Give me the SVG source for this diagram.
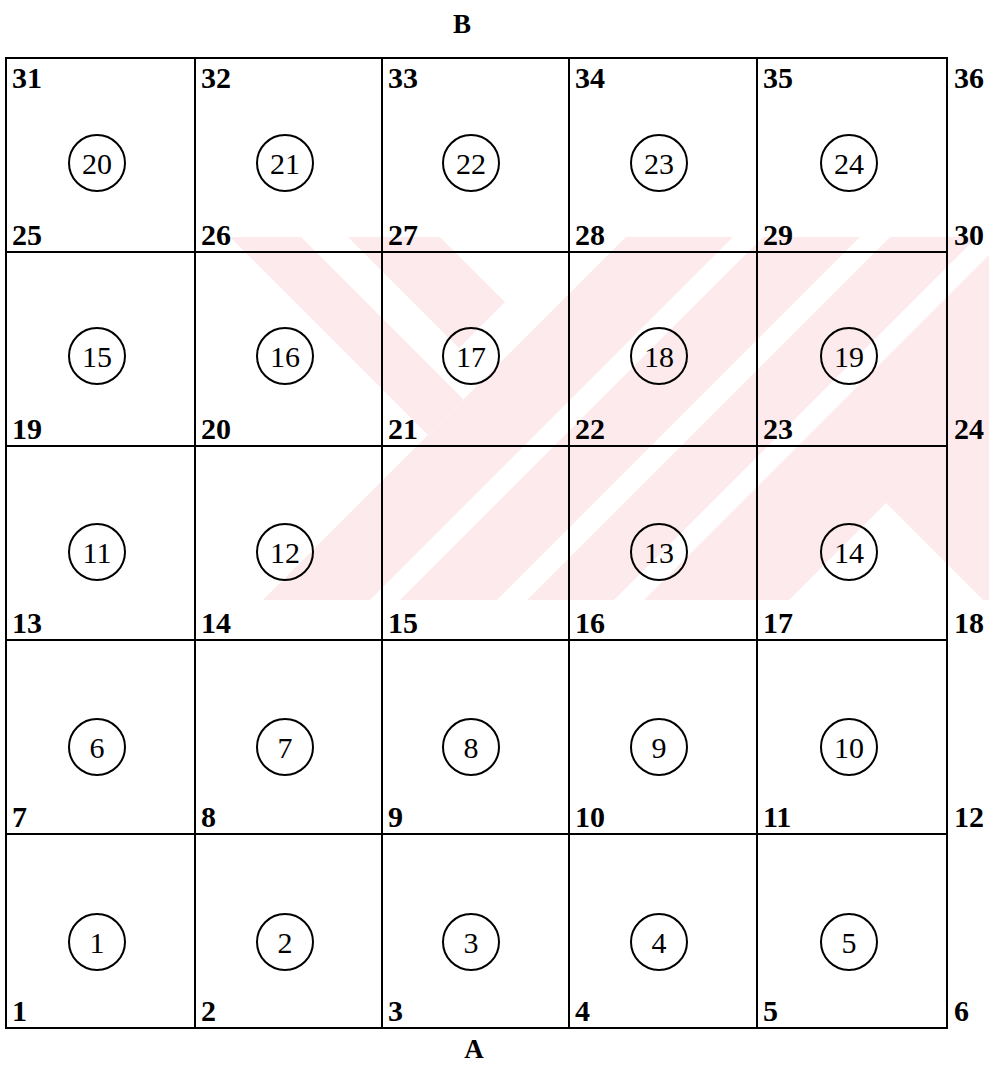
<svg xmlns="http://www.w3.org/2000/svg" width="989" height="1065" viewBox="0 0 989 1065">
<style>
.grid{stroke:#000;stroke-width:2;fill:none}
.el circle{fill:none;stroke:#000;stroke-width:2}
.el text{font-family:"Liberation Serif","Times New Roman",serif;font-size:30px;text-anchor:middle;fill:#000}
.nl{font-family:"Liberation Serif","Times New Roman",serif;font-size:30px;font-weight:bold;fill:#000}
.ttl{font-family:"Liberation Serif","Times New Roman",serif;font-size:27px;font-weight:bold;text-anchor:middle;fill:#000}
.wm{fill:#fdeaed}
.wmw{fill:#fff}
</style>
<defs>
<clipPath id="band"><rect x="0" y="237" width="989" height="363"/></clipPath>
</defs>
<rect width="989" height="1065" fill="#fff"/>
<g id="watermark" clip-path="url(#band)">
<polygon class="wm" points="230,237 301,237 463.5,399.5 428,435"/>
<polygon class="wm" points="348,237 440,237 505,302 459,348"/>
<polygon class="wm" points="626,237 989,237 989,600 263,600"/>
<polygon class="wmw" points="733,237 763,237 400,600 370,600"/>
<polygon class="wmw" points="860,237 890,237 527,600 497,600"/>
<polygon class="wmw" points="977,237 1007,237 644,600 614,600"/>
<polygon class="wmw" points="886,503 983,600 789,600"/>
</g>
<g id="connectors">
<rect class="grid" x="6" y="58" width="941" height="970"/>
<line class="grid" x1="195" y1="58" x2="195" y2="1028"/>
<line class="grid" x1="382" y1="58" x2="382" y2="1028"/>
<line class="grid" x1="569" y1="58" x2="569" y2="1028"/>
<line class="grid" x1="757" y1="58" x2="757" y2="1028"/>
<line class="grid" x1="6" y1="252" x2="947" y2="252"/>
<line class="grid" x1="6" y1="446" x2="947" y2="446"/>
<line class="grid" x1="6" y1="640" x2="947" y2="640"/>
<line class="grid" x1="6" y1="834" x2="947" y2="834"/>
</g>
<g id="node-labels">
<text class="nl" x="12" y="88">31</text>
<text class="nl" x="201" y="88">32</text>
<text class="nl" x="388" y="88">33</text>
<text class="nl" x="575" y="88">34</text>
<text class="nl" x="763" y="88">35</text>
<text class="nl" x="954" y="88">36</text>
<text class="nl" x="12" y="245">25</text>
<text class="nl" x="201" y="245">26</text>
<text class="nl" x="388" y="245">27</text>
<text class="nl" x="575" y="245">28</text>
<text class="nl" x="763" y="245">29</text>
<text class="nl" x="954" y="245">30</text>
<text class="nl" x="12" y="439">19</text>
<text class="nl" x="201" y="439">20</text>
<text class="nl" x="388" y="439">21</text>
<text class="nl" x="575" y="439">22</text>
<text class="nl" x="763" y="439">23</text>
<text class="nl" x="954" y="439">24</text>
<text class="nl" x="12" y="633">13</text>
<text class="nl" x="201" y="633">14</text>
<text class="nl" x="388" y="633">15</text>
<text class="nl" x="575" y="633">16</text>
<text class="nl" x="763" y="633">17</text>
<text class="nl" x="954" y="633">18</text>
<text class="nl" x="12" y="827">7</text>
<text class="nl" x="201" y="827">8</text>
<text class="nl" x="388" y="827">9</text>
<text class="nl" x="575" y="827">10</text>
<text class="nl" x="763" y="827">11</text>
<text class="nl" x="954" y="827">12</text>
<text class="nl" x="12" y="1021">1</text>
<text class="nl" x="201" y="1021">2</text>
<text class="nl" x="388" y="1021">3</text>
<text class="nl" x="575" y="1021">4</text>
<text class="nl" x="763" y="1021">5</text>
<text class="nl" x="954" y="1021">6</text>
</g>
<g id="elem-20" class="el"><circle cx="97" cy="163" r="28"/><text x="97" y="174">20</text></g>
<g id="elem-21" class="el"><circle cx="285" cy="163" r="28"/><text x="285" y="174">21</text></g>
<g id="elem-22" class="el"><circle cx="471" cy="163" r="28"/><text x="471" y="174">22</text></g>
<g id="elem-23" class="el"><circle cx="659" cy="163" r="28"/><text x="659" y="174">23</text></g>
<g id="elem-24" class="el"><circle cx="849" cy="163" r="28"/><text x="849" y="174">24</text></g>
<g id="elem-15" class="el"><circle cx="97" cy="356" r="28"/><text x="97" y="367">15</text></g>
<g id="elem-16" class="el"><circle cx="285" cy="356" r="28"/><text x="285" y="367">16</text></g>
<g id="elem-17" class="el"><circle cx="471" cy="356" r="28"/><text x="471" y="367">17</text></g>
<g id="elem-18" class="el"><circle cx="659" cy="356" r="28"/><text x="659" y="367">18</text></g>
<g id="elem-19" class="el"><circle cx="849" cy="356" r="28"/><text x="849" y="367">19</text></g>
<g id="elem-11" class="el"><circle cx="97" cy="552" r="28"/><text x="97" y="563">11</text></g>
<g id="elem-12" class="el"><circle cx="285" cy="552" r="28"/><text x="285" y="563">12</text></g>
<g id="elem-13" class="el"><circle cx="659" cy="552" r="28"/><text x="659" y="563">13</text></g>
<g id="elem-14" class="el"><circle cx="849" cy="552" r="28"/><text x="849" y="563">14</text></g>
<g id="elem-6" class="el"><circle cx="97" cy="747" r="28"/><text x="97" y="758">6</text></g>
<g id="elem-7" class="el"><circle cx="285" cy="747" r="28"/><text x="285" y="758">7</text></g>
<g id="elem-8" class="el"><circle cx="471" cy="747" r="28"/><text x="471" y="758">8</text></g>
<g id="elem-9" class="el"><circle cx="659" cy="747" r="28"/><text x="659" y="758">9</text></g>
<g id="elem-10" class="el"><circle cx="849" cy="747" r="28"/><text x="849" y="758">10</text></g>
<g id="elem-1" class="el"><circle cx="97" cy="942" r="28"/><text x="97" y="953">1</text></g>
<g id="elem-2" class="el"><circle cx="285" cy="942" r="28"/><text x="285" y="953">2</text></g>
<g id="elem-3" class="el"><circle cx="471" cy="942" r="28"/><text x="471" y="953">3</text></g>
<g id="elem-4" class="el"><circle cx="659" cy="942" r="28"/><text x="659" y="953">4</text></g>
<g id="elem-5" class="el"><circle cx="849" cy="942" r="28"/><text x="849" y="953">5</text></g>
<g id="titles">
<text class="ttl" x="462" y="33">B</text>
<text class="ttl" x="474" y="1058">A</text>
</g>
</svg>
